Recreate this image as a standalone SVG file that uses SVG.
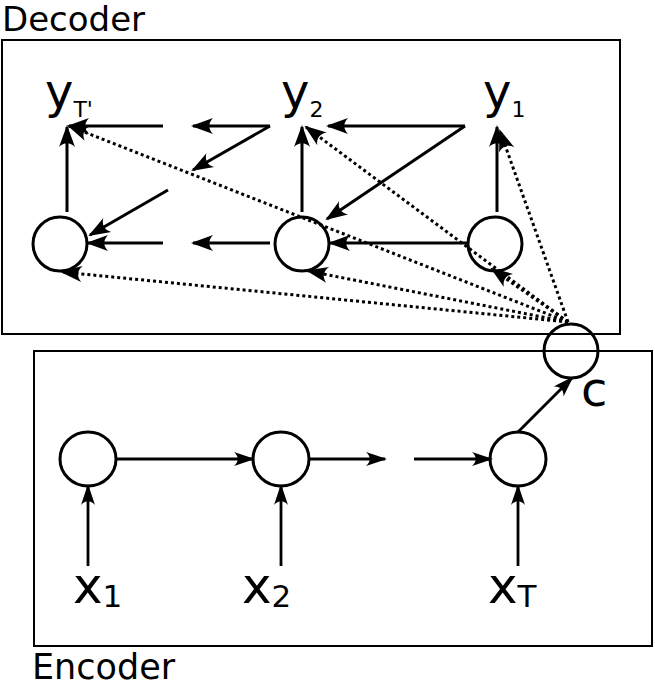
<svg xmlns="http://www.w3.org/2000/svg" width="655" height="687" viewBox="0 0 655 687">
<style>
.box{fill:none;stroke:#000;stroke-width:2}
.node{fill:none;stroke:#000;stroke-width:3}
.t{font-family:"DejaVu Sans","Liberation Sans",sans-serif;fill:#000}
.a{stroke:#000;stroke-width:3;fill:none;marker-end:url(#big)}
.e{stroke:#000;stroke-width:2.8;fill:none;marker-end:url(#small)}
.d{stroke:#000;stroke-width:3;fill:none;stroke-dasharray:3 3;marker-end:url(#big)}
</style>
<defs>
<marker id="big" markerUnits="userSpaceOnUse" orient="auto" overflow="visible" markerWidth="1" markerHeight="1" refX="0" refY="0">
<path d="M2,0 L-20,-8 C-15,-3 -15,3 -20,8 Z" fill="#000"/>
</marker>
<marker id="small" markerUnits="userSpaceOnUse" orient="auto" overflow="visible" markerWidth="1" markerHeight="1" refX="0" refY="0">
<path d="M2,0 L-19,-7 C-14,-2.5 -14,2.5 -19,7 Z" fill="#000"/>
</marker>
</defs>
<rect class="box" x="2" y="40" width="618" height="294"/>
<rect class="box" x="34" y="351" width="618" height="295"/>
<text class="t" x="2" y="31" font-size="34">Decoder</text>
<text class="t" x="32" y="679" font-size="35">Encoder</text>
<g id="connectors">
<line class="a" x1="67" y1="212" x2="67" y2="127"/>
<line class="a" x1="302" y1="212" x2="302" y2="127"/>
<line class="a" x1="497" y1="212" x2="497" y2="127"/>
<line class="a" x1="465" y1="126" x2="328" y2="126"/>
<line class="a" x1="270" y1="126" x2="193" y2="126"/>
<line class="a" x1="163" y1="126" x2="69" y2="126"/>
<line class="a" x1="465" y1="126" x2="327" y2="219"/>
<line class="a" x1="270" y1="126" x2="193" y2="170"/>
<line class="a" x1="168" y1="190" x2="90" y2="235"/>
<line class="a" x1="467" y1="243" x2="330" y2="243"/>
<line class="a" x1="270" y1="243" x2="193" y2="243"/>
<line class="a" x1="163" y1="243" x2="88" y2="243"/>
<line class="d" x1="568" y1="322" x2="69" y2="126"/>
<line class="d" x1="568" y1="322" x2="306" y2="127"/>
<line class="d" x1="568" y1="322" x2="500" y2="131"/>
<line class="d" x1="568" y1="322" x2="62" y2="272"/>
<line class="d" x1="568" y1="322" x2="308" y2="271"/>
<line class="d" x1="568" y1="322" x2="492" y2="269"/>
<line class="e" x1="116" y1="459" x2="253" y2="459" stroke-width="4.5"/>
<line class="e" x1="309" y1="459" x2="385" y2="459"/>
<line class="e" x1="414" y1="459" x2="491" y2="459"/>
<line class="e" x1="88" y1="566" x2="88" y2="486"/>
<line class="e" x1="281" y1="566" x2="281" y2="486"/>
<line class="e" x1="518" y1="566" x2="518" y2="486"/>
<line class="e" x1="518" y1="432" x2="572" y2="378"/>
</g>
<g id="dec1"><circle class="node" cx="60" cy="244" r="27"/></g>
<g id="dec2"><circle class="node" cx="302" cy="244" r="27"/></g>
<g id="dec3"><circle class="node" cx="495" cy="244" r="27"/></g>
<g id="c"><circle class="node" cx="571" cy="351" r="27"/><text class="t" x="581" y="406" font-size="48">c</text></g>
<g id="enc1"><ellipse class="node" cx="88" cy="459" rx="28" ry="27"/></g>
<g id="enc2"><ellipse class="node" cx="281" cy="459" rx="28" ry="27"/></g>
<g id="enc3"><ellipse class="node" cx="518" cy="459" rx="28" ry="27"/></g>
<g id="yT"><text class="t" x="45" y="108" font-size="48">y<tspan font-size="22" dy="9">T'</tspan></text></g>
<g id="y2"><text class="t" x="281" y="108" font-size="48">y<tspan font-size="22" dy="9">2</tspan></text></g>
<g id="y1"><text class="t" x="483" y="108" font-size="48">y<tspan font-size="22" dy="9">1</tspan></text></g>
<g id="x1"><text class="t" x="73" y="603" font-size="50">x<tspan font-size="31" dy="4">1</tspan></text></g>
<g id="x2"><text class="t" x="242" y="603" font-size="50">x<tspan font-size="31" dy="4">2</tspan></text></g>
<g id="xT"><text class="t" x="488" y="603" font-size="50">x<tspan font-size="31" dy="4">T</tspan></text></g>
</svg>
